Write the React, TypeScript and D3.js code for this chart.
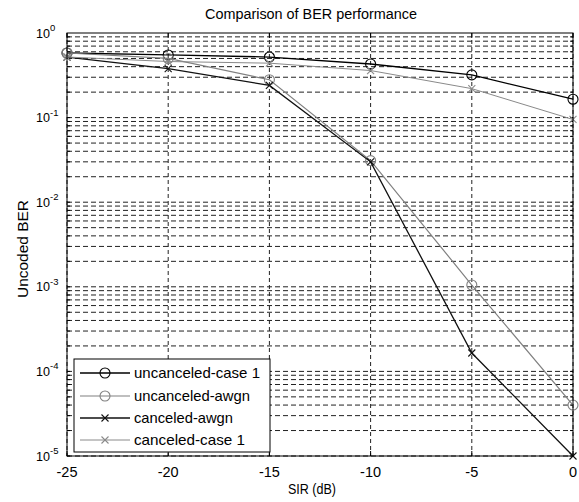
import React from "react";
import * as d3 from "d3";

const sir = [-25, -20, -15, -10, -5, 0];
const uncanceledCase1 = [0.58, 0.55, 0.52, 0.43, 0.32, 0.165];
const uncanceledAwgn = [0.58, 0.5, 0.28, 0.031, 1.05e-3, 4e-5];
const canceledAwgn = [0.52, 0.38, 0.24, 0.03, 1.65e-4, 1e-5];
const canceledCase1 = [0.52, 0.46, 0.44, 0.36, 0.22, 0.095];
const seriesNames = ["uncanceled-case 1", "uncanceled-awgn", "canceled-awgn", "canceled-case 1"];
const xTicks = [-25, -20, -15, -10, -5, 0];
const yExponents = [0, -1, -2, -3, -4, -5];

const W = 579;
const H = 502;
const L = 67, R = 573, T = 33, B = 456;
const FONT = "'Liberation Sans', Arial, sans-serif";

export default function App() {
  const x = d3.scaleLinear().domain([-25, 0]).range([L, R]);
  const y = d3.scaleLog().domain([1e-5, 1]).range([B, T]);

  const minorVals: number[] = [];
  for (let e = -5; e < 0; e++) {
    for (let k = 1; k <= 9; k++) minorVals.push(k * Math.pow(10, e));
  }

  const series = [
    { name: seriesNames[0], data: uncanceledCase1, color: "#000", marker: "o", width: 1.3 },
    { name: seriesNames[1], data: uncanceledAwgn, color: "#808080", marker: "o", width: 1.2 },
    { name: seriesNames[2], data: canceledAwgn, color: "#111", marker: "x", width: 1.3 },
    { name: seriesNames[3], data: canceledCase1, color: "#8a8a8a", marker: "x", width: 1 },
  ];

  const line = d3
    .line<[number, number]>()
    .x((d) => x(d[0]))
    .y((d) => y(d[1]));

  const marker = (m: string, cx: number, cy: number, color: string, key: string) =>
    m === "o" ? (
      <circle key={key} cx={cx} cy={cy} r={5} fill="none" stroke={color} strokeWidth={1.1} />
    ) : (
      <g key={key} stroke={color} strokeWidth={1.1}>
        <line x1={cx - 3.5} y1={cy - 3.5} x2={cx + 3.5} y2={cy + 3.5} />
        <line x1={cx - 3.5} y1={cy + 3.5} x2={cx + 3.5} y2={cy - 3.5} />
      </g>
    );

  const legendY = [373, 396, 418, 440];
  const legendW = [126, 116, 99, 111];

  return (
    <svg
      width={W}
      height={H}
      style={{ position: "absolute", left: 0, top: 0, background: "#fff" }}
      fontFamily={FONT}
    >
      <rect x={0} y={0} width={W} height={H} fill="#fff" />
      {minorVals.map((v, i) => (
        <line
          key={"h" + i}
          x1={L}
          x2={R}
          y1={y(v)}
          y2={y(v)}
          stroke="#222"
          strokeWidth={1}
          strokeDasharray="5,3"
        />
      ))}
      {xTicks.map((t) => (
        <line
          key={"v" + t}
          x1={x(t)}
          x2={x(t)}
          y1={T}
          y2={B}
          stroke="#222"
          strokeWidth={1}
          strokeDasharray="4,3"
        />
      ))}
      {minorVals.map((v, i) => (
        <g key={"mt" + i} stroke="#000">
          <line x1={L} x2={L + 3} y1={y(v)} y2={y(v)} />
          <line x1={R} x2={R - 3} y1={y(v)} y2={y(v)} />
        </g>
      ))}
      {xTicks.map((t) => (
        <g key={"xt" + t} stroke="#000">
          <line x1={x(t)} x2={x(t)} y1={B} y2={B - 5} />
          <line x1={x(t)} x2={x(t)} y1={T} y2={T + 5} />
        </g>
      ))}
      {series.map((s, si) => {
        const pts = sir.map((v, i) => [v, s.data[i]] as [number, number]);
        return (
          <g key={"s" + si}>
            <path d={line(pts) || ""} fill="none" stroke={s.color} strokeWidth={s.width} />
            {pts.map((p, i) => marker(s.marker, x(p[0]), y(p[1]), s.color, "m" + si + "-" + i))}
          </g>
        );
      })}
      <rect x={L} y={T} width={R - L} height={B - T} fill="none" stroke="#000" strokeWidth={1} />
      {xTicks.map((t) => (
        <text key={"xl" + t} x={x(t)} y={477} fontSize={14.5} textAnchor="middle" fill="#000">
          {t}
        </text>
      ))}
      {yExponents.map((e) => (
        <text key={"yl" + e} x={36} y={y(Math.pow(10, e)) + 4.5} fontSize={13.5} fill="#000">
          <tspan textLength={14} lengthAdjust="spacingAndGlyphs">10</tspan>
          <tspan fontSize={9.5} dy={-6.5}>
            {e}
          </tspan>
        </text>
      ))}
      <text
        x={311}
        y={19}
        fontSize={14}
        textAnchor="middle"
        fill="#000"
        textLength={212}
        lengthAdjust="spacingAndGlyphs"
      >
        Comparison of BER performance
      </text>
      <text
        x={312}
        y={494}
        fontSize={14}
        textAnchor="middle"
        fill="#000"
        textLength={48}
        lengthAdjust="spacingAndGlyphs"
      >
        SIR (dB)
      </text>
      <text
        transform={`translate(28,249) rotate(-90)`}
        fontSize={15}
        textAnchor="middle"
        fill="#000"
        textLength={98}
        lengthAdjust="spacingAndGlyphs"
      >
        Uncoded BER
      </text>
      <rect x={74} y={359} width={196} height={93} fill="#fff" stroke="#000" strokeWidth={1} />
      {series.map((s, i) => (
        <g key={"lg" + i}>
          <line x1={80} x2={130} y1={legendY[i]} y2={legendY[i]} stroke={s.color} strokeWidth={s.width} />
          {marker(s.marker, 105, legendY[i], s.color, "lm" + i)}
          <text
            x={134}
            y={legendY[i] + 5}
            fontSize={14.5}
            fill="#000"
            textLength={legendW[i]}
            lengthAdjust="spacingAndGlyphs"
          >
            {s.name}
          </text>
        </g>
      ))}
    </svg>
  );
}
